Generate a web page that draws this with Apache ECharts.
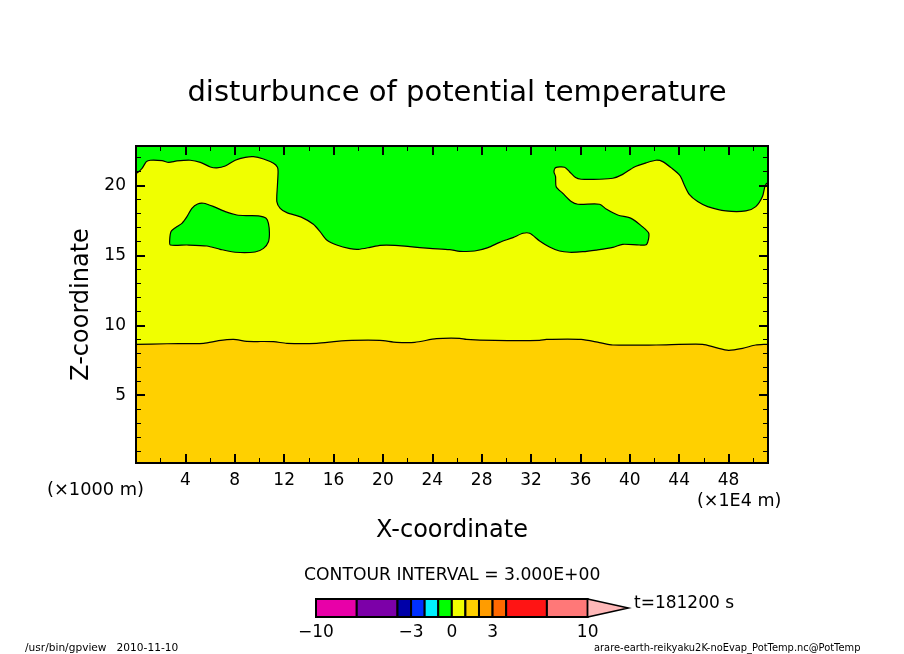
<!DOCTYPE html>
<html>
<head>
<meta charset="utf-8">
<title>disturbunce of potential temperature</title>
<style>
    html, body {margin: 0; padding: 0; background: #fff;}
    #chart {width: 904px; height: 654px;}
</style>
</head>
<body>
<div id="chart"></div>
<script src="https://cdn.jsdelivr.net/npm/echarts@6/dist/echarts.min.js"></script>
<script>
// contour lines, [x, z] in axis units
const yellowTop = [
    [0, 20.89], [0.49, 21.24], [0.84, 21.72], [1.16, 21.82], [2.11, 21.79], [2.65, 21.67], [3.32, 21.77], [4.4, 21.82],
    [5.21, 21.67], [6.02, 21.34], [6.55, 21.27], [7.23, 21.41], [8.04, 21.82], [8.85, 22.03], [9.52, 22.08], [10.33, 21.91],
    [11.14, 21.6], [11.46, 21.32], [11.51, 21.0], [11.46, 20.05], [11.41, 18.86], [11.68, 18.38], [12.22, 18.07], [13.43, 17.73],
    [14.37, 17.23], [14.91, 16.71], [15.45, 16.11], [16.26, 15.75], [17.34, 15.49], [18.01, 15.44], [18.95, 15.58], [19.76, 15.73],
    [20.97, 15.73], [22.18, 15.63], [23.8, 15.51], [25.42, 15.42], [26.23, 15.3], [27.44, 15.32], [28.52, 15.56], [29.46, 15.94],
    [30.54, 16.28], [31.35, 16.59], [31.89, 16.59], [32.7, 16.04], [33.5, 15.61], [34.31, 15.32], [35.12, 15.23], [36.2, 15.27],
    [37.28, 15.39], [38.63, 15.58], [39.43, 15.8], [40.78, 15.75], [41.37, 15.8], [41.54, 16.59], [40.92, 17.14], [40.11, 17.66],
    [39.03, 17.9], [38.09, 18.33], [37.55, 18.67], [35.8, 18.67], [35.26, 18.86], [34.58, 19.45], [34.04, 19.93], [33.99, 20.65],
    [33.86, 21.0], [33.99, 21.29], [34.72, 21.32], [35.12, 21.0], [35.61, 20.58], [36.06, 20.46], [37.55, 20.46], [38.63, 20.53],
    [39.43, 20.81], [40.38, 21.34], [41.32, 21.63], [42.13, 21.82], [42.67, 21.72], [43.34, 21.29], [44.07, 20.72], [44.42, 20.05],
    [44.82, 19.38], [45.5, 18.86], [46.31, 18.5], [47.79, 18.19], [49.41, 18.19], [50.21, 18.5], [50.75, 19.22], [50.97, 20.0],
    [51.2, 20.2]
];
const greenIsland = [
    [2.78, 15.75], [2.73, 16.11], [2.84, 16.71], [3.19, 16.99], [3.72, 17.3], [4.13, 17.78], [4.53, 18.38], [4.99, 18.69],
    [5.48, 18.74], [6.29, 18.5], [7.23, 18.14], [8.17, 17.9], [9.12, 17.85], [9.92, 17.83], [10.54, 17.66], [10.73, 17.3],
    [10.81, 16.59], [10.73, 15.99], [10.33, 15.51], [9.65, 15.25], [8.04, 15.23], [6.82, 15.44], [5.75, 15.68], [4.13, 15.75]
];
const orangeTop = [
    [0, 8.64], [2.51, 8.68], [5.48, 8.71], [6.69, 8.9], [7.9, 8.99], [8.98, 8.85], [11.14, 8.83], [12.22, 8.71],
    [14.64, 8.71], [16.26, 8.85], [17.47, 8.92], [19.76, 8.92], [21.11, 8.78], [22.59, 8.78], [24.34, 9.04], [26.23, 9.07],
    [26.77, 8.99], [29.06, 8.92], [32.7, 8.92], [33.24, 8.99], [36.06, 8.99], [37.55, 8.76], [38.63, 8.59], [42.13, 8.59],
    [45.9, 8.64], [46.98, 8.4], [48, 8.21], [49.14, 8.35], [50.2, 8.59], [51.02, 8.64], [51.2, 8.64]
];

const xMin = 0, xMax = 51.2;
const zMin = 0.14, zMax = 22.84;
const xMajor = [4, 8, 12, 16, 20, 24, 28, 32, 36, 40, 44, 48];
const xMinor = [2, 6, 10, 14, 18, 22, 26, 30, 34, 38, 42, 46, 50];
const zMajor = [5, 10, 15, 20];
const zMinor = [1, 2, 3, 4, 6, 7, 8, 9, 11, 12, 13, 14, 16, 17, 18, 19, 21, 22];

// colour bar
const barLevels = [-10, -7, -4, -3, -2, -1, 0, 1, 2, 3, 4, 7, 10];
const barColors = ['#e800a8', '#7c00a8', '#0000a8', '#0030ff', '#00f0ff', '#00ff00', '#f0ff00', '#ffd000', '#ff9c00', '#ff6800', '#ff1414', '#ff7878'];
const barLabels = [-10, -3, 0, 3, 10];
const barOver = 13;
const barOverColor = '#ffb8b8';

const GREEN = '#00ff00', YELLOW = '#f0ff00', ORANGE = '#ffd000';
const FONT = '"DejaVu Sans", sans-serif';

var chart = echarts.init(document.getElementById('chart'));

// runs the closing edge outside the frame, the clip hides it
function closeDown(line) {
    var first = line[0], last = line[line.length - 1];
    return line.concat([
        [xMax + 3, last[1]], [xMax + 3, zMin - 3], [xMin - 3, zMin - 3], [xMin - 3, first[1]]
    ]);
}

// a region of the contour plot: filled polygon, black outline
function regionItem(params, api) {
    var region = regions[params.dataIndex];
    return {
        type: 'polygon',
        shape: {
            points: region.points.map(function (p) { return api.coord(p); }),
            smooth: 0.25
        },
        style: {fill: region.color, stroke: region.line ? '#000' : null, lineWidth: 1.2}
    };
}
var regions = [
    {color: GREEN, line: false, points: [[xMin - 3, zMax + 3], [xMax + 3, zMax + 3], [xMax + 3, zMin - 3], [xMin - 3, zMin - 3]]},
    {color: YELLOW, line: true, points: closeDown(yellowTop)},
    {color: GREEN, line: true, points: greenIsland},
    {color: ORANGE, line: true, points: closeDown(orangeTop)}
];

function barItem(params, api) {
    var lo = api.value(0), hi = api.value(1);
    if (hi === barOver) {
        return {
            type: 'polygon',
            shape: {points: [api.coord([lo, 1]), api.coord([hi, 0.5]), api.coord([lo, 0])]},
            style: {fill: barOverColor, stroke: '#000', lineWidth: 1.5}
        };
    }
    var a = api.coord([lo, 1]), b = api.coord([hi, 0]);
    return {
        type: 'rect',
        shape: {x: a[0], y: a[1], width: b[0] - a[0], height: b[1] - a[1]},
        style: {fill: barColors[params.dataIndex], stroke: '#000', lineWidth: 2}
    };
}
var barCells = barColors.map(function (c, i) { return [barLevels[i], barLevels[i + 1]]; });
barCells.push([barLevels[barLevels.length - 1], barOver]);

function xAxisOf(position, values, len, width, major) {
    var labels = major && position === 'bottom';
    return {
        type: 'value', gridIndex: 0, position: position, min: xMin, max: xMax, z: 5,
        name: labels ? 'X-coordinate' : '',
        nameLocation: 'middle', nameGap: 56,
        nameTextStyle: {color: '#000', fontSize: 24, fontFamily: FONT},
        splitLine: {show: false},
        axisLine: {show: major, onZero: false, lineStyle: {color: '#000', width: 2, cap: 'square'}},
        axisTick: {show: true, inside: true, length: len, customValues: values, lineStyle: {color: '#000', width: width}},
        axisLabel: {show: labels, customValues: values, margin: 9, color: '#000', fontSize: 17, fontFamily: FONT}
    };
}
function zAxisOf(position, values, len, width, major) {
    var labels = major && position === 'left';
    return {
        type: 'value', gridIndex: 0, position: position, min: zMin, max: zMax, z: 5,
        name: labels ? 'Z-coordinate' : '',
        nameLocation: 'middle', nameGap: 38,
        nameTextStyle: {color: '#000', fontSize: 24, fontFamily: FONT},
        splitLine: {show: false},
        axisLine: {show: major, onZero: false, lineStyle: {color: '#000', width: 2, cap: 'square'}},
        axisTick: {show: true, inside: true, length: len, customValues: values, lineStyle: {color: '#000', width: width}},
        axisLabel: {show: labels, customValues: values, margin: 10, color: '#000', fontSize: 17, fontFamily: FONT}
    };
}

function label(text, x, y, size, align) {
    return {
        type: 'text', x: x, y: y,
        style: {text: text, fill: '#000', font: size + 'px ' + FONT, textAlign: align || 'left', textVerticalAlign: 'middle'}
    };
}

var option = {
    backgroundColor: '#fff',
    animation: false,
    title: {
        text: 'disturbunce of potential temperature',
        left: 452, top: 74, textAlign: 'center',
        textStyle: {color: '#000', fontSize: 29, fontWeight: 'normal', fontFamily: FONT}
    },
    grid: [
        {left: 136, top: 146, width: 632, height: 317},
        {left: 316, top: 599, width: 312.4, height: 18}
    ],
    xAxis: [
        xAxisOf('bottom', xMajor, 9, 2, true),
        xAxisOf('bottom', xMinor, 5, 1, false),
        xAxisOf('top', xMajor, 9, 2, true),
        xAxisOf('top', xMinor, 5, 1, false),
        {
            type: 'value', gridIndex: 1, min: -10, max: barOver, position: 'bottom',
            splitLine: {show: false}, axisLine: {show: false}, axisTick: {show: false},
            axisLabel: {
                customValues: barLabels, margin: 7, color: '#000', fontSize: 17, fontFamily: FONT,
                formatter: function (v) { return String(v).replace('-', '\u2212'); }
            }
        }
    ],
    yAxis: [
        zAxisOf('left', zMajor, 9, 2, true),
        zAxisOf('left', zMinor, 5, 1, false),
        zAxisOf('right', zMajor, 9, 2, true),
        zAxisOf('right', zMinor, 5, 1, false),
        {
            type: 'value', gridIndex: 1, min: 0, max: 1,
            splitLine: {show: false}, axisLine: {show: false}, axisTick: {show: false}, axisLabel: {show: false}
        }
    ],
    series: [
        {
            type: 'custom', xAxisIndex: 0, yAxisIndex: 0, z: 1, silent: true, clip: true,
            data: regions.map(function (r, i) { return [i]; }),
            encode: {x: [], y: []},
            renderItem: regionItem
        },
        {
            type: 'custom', xAxisIndex: 4, yAxisIndex: 4, silent: true, clip: false,
            data: barCells,
            encode: {x: [0, 1], y: []},
            renderItem: barItem
        }
    ],
    graphic: [
        label('(\u00d71000 m)', 47, 490, 17.8),
        label('(\u00d71E4 m)', 697, 501, 17.5),
        label('CONTOUR INTERVAL = 3.000E+00', 304, 576, 17.2),
        label('t=181200 s', 634, 604, 17),
        label('/usr/bin/gpview   2010-11-10', 25, 648, 10.6),
        label('arare-earth-reikyaku2K-noEvap_PotTemp.nc@PotTemp', 594, 648, 9.9)
    ]
};
chart.setOption(option);
</script>
</body>
</html>
